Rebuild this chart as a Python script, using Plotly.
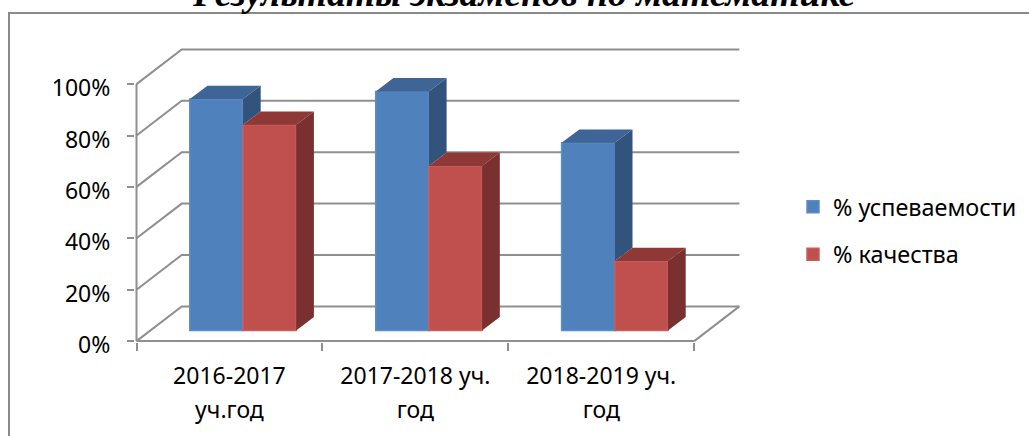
import plotly.graph_objects as go

categories = [["2016-2017", "уч.год"], ["2017-2018 уч.", "год"], ["2018-2019 уч.", "год"]]
success = [90, 93, 73]
quality = [80, 64, 27]
y_ticks = [0, 20, 40, 60, 80, 100]
y_labels = ["0%", "20%", "40%", "60%", "80%", "100%"]
title_text = "Результаты экзаменов по математике"

W, H = 1029, 436
FONT = "Noto Sans"
GRID = "#8f8f8f"
L, R, T, B = 135, 284, 40, 94
PX_X, PX_Y = 185.9, 2.57
plot_w, plot_h = W - L - R, H - T - B
x0_off = 1.5 / PX_X
y0_off = 0.9 / PX_Y
x_range = [-x0_off, plot_w / PX_X - x0_off]
y_range = [-y0_off, plot_h / PX_Y - y0_off]

wall_dx, wall_dy = 45.2 / PX_X, 34.7 / PX_Y
bar_w = 53.2 / PX_X
bar_dx, bar_dy = 17.7 / PX_X, 13.3 / PX_Y
base = 10.7 / PX_Y
n = len(categories)

lefts_a = [i + (189.8 - 136.5) / PX_X for i in range(n)]
lefts_b = [a + bar_w for a in lefts_a]


def poly(points_per_bar):
    xs, ys = [], []
    for pts in points_per_bar:
        for px, py in pts + [pts[0]]:
            xs.append(px)
            ys.append(py)
        xs.append(None)
        ys.append(None)
    return xs, ys


def face(pts, color):
    xs, ys = poly(pts)
    return go.Scatter(x=xs, y=ys, mode="lines", fill="toself", fillcolor=color,
                      line=dict(width=0, color=color), showlegend=False, hoverinfo="skip")


fig = go.Figure()
fig.add_trace(go.Bar(x=[a + bar_w / 2 for a in lefts_a], y=success, base=base, width=bar_w,
                     name="% успеваемости", legendgroup="a",
                     marker=dict(color="#4F81BD", line=dict(width=1.5, color="#5E8CC4"))))
fig.add_trace(go.Bar(x=[a + bar_w / 2 for a in lefts_b], y=quality, base=base, width=bar_w,
                     name="% качества", legendgroup="b",
                     marker=dict(color="#C0504D", line=dict(width=1.5, color="#C65F5C"))))

blue_side = []
blue_top = []
red_side = []
red_top = []
for i in range(n):
    xa, xb = lefts_a[i], lefts_b[i]
    va, vb = success[i] + base, quality[i] + base
    blue_top.append([(xa, va), (xb, va), (xb + bar_dx, va + bar_dy), (xa + bar_dx, va + bar_dy)])
    blue_side.append([(xb, va), (xb + bar_dx, va + bar_dy), (xb + bar_dx, vb + bar_dy), (xb, vb)])
    xc = xb + bar_w
    red_top.append([(xb, vb), (xc, vb), (xc + bar_dx, vb + bar_dy), (xb + bar_dx, vb + bar_dy)])
    red_side.append([(xc, vb), (xc + bar_dx, vb + bar_dy), (xc + bar_dx, base + bar_dy), (xc, base)])

fig.add_trace(face(blue_side, "#31537C"))
fig.add_trace(face(blue_top, "#3E6596"))
fig.add_trace(face(red_top, "#8F3937"))
fig.add_trace(face(red_side, "#7A302E"))

shapes = []
line = dict(color=GRID, width=2)
for t in y_ticks:
    pts = [(0, t), (wall_dx, t + wall_dy), (n + wall_dx, t + wall_dy)]
    path = "M" + " L".join(f"{a},{b}" for a, b in pts)
    shapes.append(dict(type="path", path=path, xref="x", yref="y", line=line, layer="below"))
shapes.append(dict(type="line", x0=0, x1=0, y0=0, y1=100, xref="x", yref="y", line=line, layer="below"))
shapes.append(dict(type="line", x0=0, x1=n, y0=0, y1=0, xref="x", yref="y", line=line, layer="below"))
shapes.append(dict(type="line", x0=n, x1=n + wall_dx, y0=0, y1=wall_dy, xref="x", yref="y", line=line, layer="below"))


def paper_x(p):
    return (p - L) / plot_w


def paper_y(p):
    return (H - B - p) / plot_h


shapes.append(dict(type="rect", xref="paper", yref="paper", x0=paper_x(9), x1=paper_x(1200),
                   y0=paper_y(13), y1=paper_y(600), line=dict(color="#8a8a8a", width=2), layer="below"))

ticktext = ["<br>".join(f'<span style="font-size:23px">{s}</span>' for s in c) for c in categories]

fig.update_layout(
    width=W, height=H,
    margin=dict(l=L, r=R, t=T, b=B, pad=0, autoexpand=False),
    paper_bgcolor="white", plot_bgcolor="rgba(0,0,0,0)", barmode="overlay",
    font=dict(family=FONT, color="#000000", size=23),
    shapes=shapes,
    showlegend=True,
    legend=dict(x=paper_x(793), xanchor="left", y=paper_y(185), yanchor="top",
                font=dict(family=FONT, size=23.4, color="#000000"), tracegroupgap=14,
                itemclick=False, bgcolor="rgba(0,0,0,0)", borderwidth=0),
    xaxis=dict(range=x_range, tickmode="array", tickvals=[i + 0.5 for i in range(n)], ticktext=ticktext,
               ticks="outside", ticklen=0, tickwidth=0, showgrid=False, zeroline=False, showline=False,
               tickfont=dict(family=FONT, size=26.5, color="#000000"), ticklabelstandoff=9,
               minor=dict(tickmode="array", tickvals=list(range(n + 1)), ticks="outside", ticklen=8,
                          tickwidth=2, tickcolor=GRID, showgrid=False)),
    yaxis=dict(range=y_range, tickmode="array", tickvals=y_ticks, ticktext=y_labels,
               ticks="outside", ticklen=7, tickwidth=2, tickcolor=GRID, showgrid=False, zeroline=False,
               showline=False, tickfont=dict(family=FONT, size=23, color="#000000"), ticklabelstandoff=12,
               ticklabelshift=4),
    annotations=[dict(text=f"<b><i>{title_text}</i></b>", xref="paper", yref="paper",
                      x=paper_x(523), y=paper_y(15.5), xanchor="center", yanchor="bottom", showarrow=False,
                      font=dict(family="Liberation Serif", size=37.7, color="#000000"))],
)

fig.write_html("out.html", config=dict(displayModeBar=False), post_script="document.body.style.margin='0';")
